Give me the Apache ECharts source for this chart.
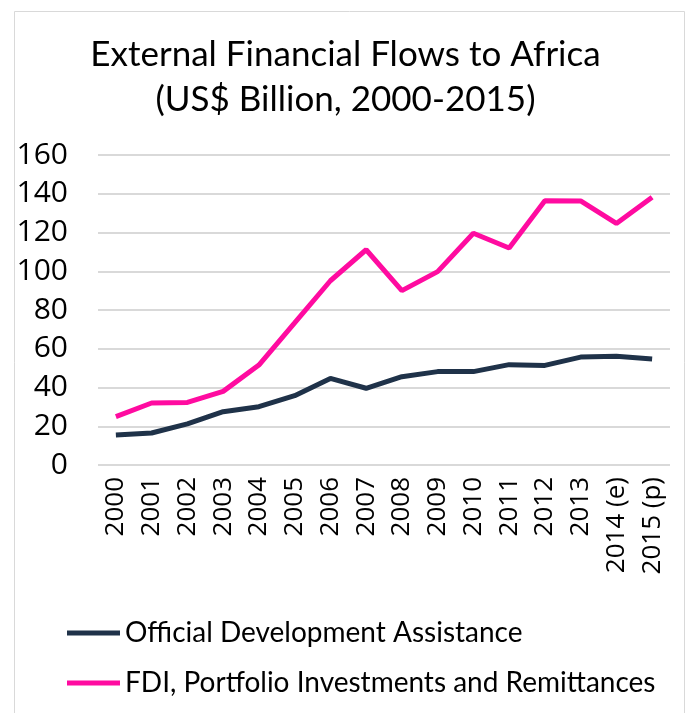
<!DOCTYPE html>
<html><head><meta charset="utf-8">
<script src="https://cdn.jsdelivr.net/npm/echarts@6/dist/echarts.min.js"></script>
<style>html,body{margin:0;padding:0;background:#fff}#c{width:691px;height:713px}</style>
</head><body><div id="c"></div>
<script>
const categories = ['2000','2001','2002','2003','2004','2005','2006','2007','2008','2009','2010','2011','2012','2013','2014 (e)','2015 (p)'];
const odaValues = [15.5,16.5,21.2,27.5,30.1,35.8,44.7,39.6,45.6,48.2,48.2,51.8,51.4,55.7,56.1,54.7];
const fdiValues = [25.0,32.0,32.3,38.0,51.6,73.3,95.1,111.1,90.0,99.8,119.6,112.0,136.4,136.3,124.7,138.2];
const seriesNames = ['Official Development Assistance','FDI, Portfolio Investments and Remittances'];
const yTicks = [0,20,40,60,80,100,120,140,160];

const font = 'Lato, "Open Sans", sans-serif';
const chart = echarts.init(document.getElementById('c'));
chart.setOption({
  animation:false,
  backgroundColor:'#fff',
  title:{
    text:'External Financial Flows to Africa\n(US$ Billion, 2000-2015)',
    left:'center', top:27,
    textStyle:{fontFamily:font,fontSize:35,fontWeight:'normal',color:'#000',lineHeight:45}
  },
  graphic:[{type:'rect',shape:{x:14.5,y:11.5,width:670,height:710},style:{fill:'none',stroke:'#d9d9d9',lineWidth:1}}],
  legend:{
    orient:'vertical', left:62, top:614, itemGap:22, itemWidth:53, itemHeight:5,
    icon:'rect',
    textStyle:{fontFamily:font,fontSize:28,color:'#000'},
    data:seriesNames
  },
  grid:{left:98,right:21,top:155,bottom:248},
  xAxis:{
    type:'category', data:categories, boundaryGap:true,
    axisLine:{show:false}, axisTick:{show:false},
    axisLabel:{rotate:90,fontFamily:'"Open Sans", sans-serif',fontSize:26,color:'#000',margin:12,interval:0}
  },
  yAxis:{
    type:'value', min:0, max:160, interval:20,
    axisLabel:{fontFamily:'"Open Sans", sans-serif',fontSize:30,color:'#000',margin:30,
      formatter:v=>yTicks.includes(v)?String(v):''},
    splitLine:{lineStyle:{color:'#d9d9d9',width:2}}
  },
  series:[
    {name:seriesNames[0],type:'line',data:odaValues,symbol:'none',lineStyle:{color:'#1f3249',width:5},itemStyle:{color:'#1f3249'}},
    {name:seriesNames[1],type:'line',data:fdiValues,symbol:'none',lineStyle:{color:'#ff0ba0',width:5},itemStyle:{color:'#ff0ba0'}}
  ]
});
</script></body></html>
